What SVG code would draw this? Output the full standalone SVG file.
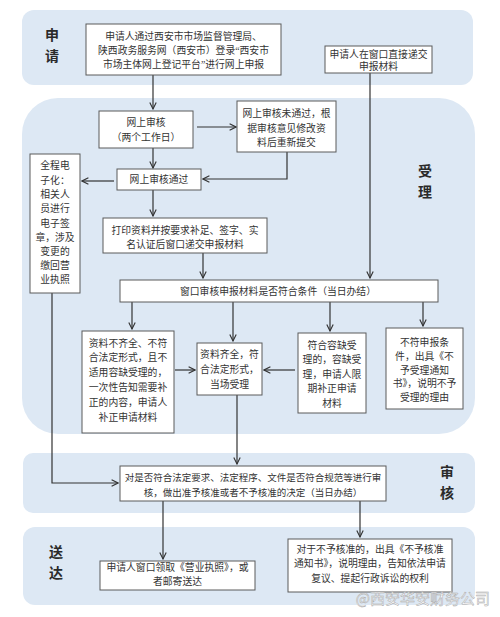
<svg xmlns="http://www.w3.org/2000/svg" width="500" height="617" viewBox="0 0 500 617">
<style>
.band{fill:#dde8f4}
.box{fill:#fff;stroke:#5a5a5a;stroke-width:1}
.t{font-family:"Liberation Serif","Noto Sans CJK SC",serif;font-size:9.8px;fill:#333;text-anchor:middle}
.lbl{font-family:"Noto Sans CJK SC",sans-serif;font-size:14px;font-weight:bold;fill:#2a2a2a;text-anchor:middle}
.c{fill:none;stroke:#333;stroke-width:1.2}
.wm{font-family:"Noto Sans CJK SC",sans-serif;font-size:15px;fill:#fff;stroke:#a8a8a8;stroke-width:0.5;text-anchor:end}
</style>
<defs>
<marker id="arr" viewBox="0 0 10 10" refX="9" refY="5" markerWidth="8" markerHeight="8" orient="auto" markerUnits="userSpaceOnUse">
<path d="M1,1 L9,5 L1,9" fill="none" stroke="#333" stroke-width="1.4"/>
</marker>
</defs>
<rect width="500" height="617" fill="#fff"/>
<g id="bands">
<rect class="band" x="22" y="10" width="451" height="75" rx="12"/>
<rect class="band" x="22" y="98" width="453" height="336" rx="36"/>
<rect class="band" x="23" y="453" width="452" height="60" rx="10"/>
<rect class="band" x="23" y="527" width="452" height="78" rx="12"/>
</g>
<g id="labels">
<text class="lbl" x="52" y="40">申<tspan x="52" dy="21">请</tspan></text>
<text class="lbl" x="425" y="176">受<tspan x="425" dy="21">理</tspan></text>
<text class="lbl" x="447" y="477">审<tspan x="447" dy="21">核</tspan></text>
<text class="lbl" x="56" y="557">送<tspan x="56" dy="21">达</tspan></text>
</g>
<g id="connectors">
<path class="c" d="M153,75 V109" marker-end="url(#arr)"/>
<path class="c" d="M370,73 V278" marker-end="url(#arr)"/>
<path class="c" d="M197,127 H236" marker-end="url(#arr)"/>
<path class="c" d="M287,152 V179 H203" marker-end="url(#arr)"/>
<path class="c" d="M153,148 V168" marker-end="url(#arr)"/>
<path class="c" d="M114,181 H82" marker-end="url(#arr)"/>
<path class="c" d="M153,190 V216" marker-end="url(#arr)"/>
<path class="c" d="M203,253 V278" marker-end="url(#arr)"/>
<path class="c" d="M132,302 V329" marker-end="url(#arr)"/>
<path class="c" d="M233,302 V341" marker-end="url(#arr)"/>
<path class="c" d="M330,302 V331" marker-end="url(#arr)"/>
<path class="c" d="M423,302 V326" marker-end="url(#arr)"/>
<path class="c" d="M175,370 H195" marker-end="url(#arr)"/>
<path class="c" d="M295,370 H264" marker-end="url(#arr)"/>
<path class="c" d="M52,293 V483 H118" marker-end="url(#arr)"/>
<path class="c" d="M237,395 V464" marker-end="url(#arr)"/>
<path class="c" d="M163,501 V559" marker-end="url(#arr)"/>
<path class="c" d="M360,501 V537" marker-end="url(#arr)"/>
</g>
<g id="n1">
<rect class="box" x="86" y="24" width="195" height="51"/>
<text class="t" x="183.5" y="40">申请人通过西安市市场监督管理局、</text>
<text class="t" x="183.5" y="54">陕西政务服务网（西安市）登录“西安市</text>
<text class="t" x="183.5" y="68">市场主体网上登记平台”进行网上申报</text>
</g>
<g id="n2">
<rect class="box" x="325" y="46" width="107" height="27"/>
<text class="t" x="378.5" y="58">申请人在窗口直接递交</text>
<text class="t" x="378.5" y="70">申报材料</text>
</g>
<g id="n3">
<rect class="box" x="99" y="111" width="94" height="37"/>
<text class="t" x="146" y="126">网上审核</text>
<text class="t" x="146" y="141">（两个工作日）</text>
</g>
<g id="n4">
<rect class="box" x="237" y="101" width="99" height="51"/>
<text class="t" x="286.5" y="117">网上审核未通过，根</text>
<text class="t" x="286.5" y="132">据审核意见修改资</text>
<text class="t" x="286.5" y="146">料后重新提交</text>
</g>
<g id="n5">
<rect class="box" x="117" y="169" width="84" height="21"/>
<text class="t" x="159" y="183">网上审核通过</text>
</g>
<g id="n6">
<rect class="box" x="30" y="154" width="50" height="139"/>
<text class="t" x="55" y="169">全程电</text>
<text class="t" x="55" y="184">子化：</text>
<text class="t" x="55" y="198">相关人</text>
<text class="t" x="55" y="212">员进行</text>
<text class="t" x="55" y="227">电子签</text>
<text class="t" x="55" y="241">章，涉及</text>
<text class="t" x="55" y="255">变更的</text>
<text class="t" x="55" y="269">缴回营</text>
<text class="t" x="55" y="283">业执照</text>
</g>
<g id="n7">
<rect class="box" x="103" y="218" width="164" height="35"/>
<text class="t" x="185" y="234">打印资料并按要求补足、签字、实</text>
<text class="t" x="185" y="248">名认证后窗口递交申报材料</text>
</g>
<g id="n8">
<rect class="box" x="120" y="280" width="318" height="22"/>
<text class="t" x="278" y="294.5">窗口审核申报材料是否符合条件（当日办结）</text>
</g>
<g id="n9">
<rect class="box" x="82" y="331" width="92" height="102"/>
<text class="t" x="128" y="347">资料不齐全、不符</text>
<text class="t" x="128" y="361">合法定形式，且不</text>
<text class="t" x="128" y="376">适用容缺受理的，</text>
<text class="t" x="128" y="391">一次性告知需要补</text>
<text class="t" x="128" y="406">正的内容，申请人</text>
<text class="t" x="128" y="421">补正申请材料</text>
</g>
<g id="n10">
<rect class="box" x="197" y="343" width="65" height="52"/>
<text class="t" x="229.5" y="358">资料齐全，符</text>
<text class="t" x="229.5" y="373">合法定形式，</text>
<text class="t" x="229.5" y="388">当场受理</text>
</g>
<g id="n11">
<rect class="box" x="298" y="333" width="68" height="80"/>
<text class="t" x="332" y="349">符合容缺受</text>
<text class="t" x="332" y="363">理的，容缺受</text>
<text class="t" x="332" y="378">理，申请人限</text>
<text class="t" x="332" y="392">期补正申请</text>
<text class="t" x="332" y="407">材料</text>
</g>
<g id="n12">
<rect class="box" x="386" y="328" width="77" height="81"/>
<text class="t" x="424.5" y="346">不符申报条</text>
<text class="t" x="424.5" y="360">件，出具《不</text>
<text class="t" x="424.5" y="374">予受理通知</text>
<text class="t" x="424.5" y="387">书》，说明不予</text>
<text class="t" x="424.5" y="401">受理的理由</text>
</g>
<g id="n13">
<rect class="box" x="120" y="466" width="266" height="35"/>
<text class="t" x="253" y="481" style="font-size:9.5px">对是否符合法定要求、法定程序、文件是否符合规范等进行审</text>
<text class="t" x="253" y="496" style="font-size:9.5px">核，做出准予核准或者不予核准的决定（当日办结）</text>
</g>
<g id="n14">
<rect class="box" x="100" y="561" width="155" height="29"/>
<text class="t" x="177.5" y="571">申请人窗口领取《营业执照》，或</text>
<text class="t" x="177.5" y="585">者邮寄送达</text>
</g>
<g id="n15">
<rect class="box" x="288" y="539" width="164" height="53"/>
<text class="t" x="370" y="553">对于不予核准的，出具《不予核准</text>
<text class="t" x="370" y="567">通知书》，说明理由，告知依法申请</text>
<text class="t" x="370" y="582">复议、提起行政诉讼的权利</text>
</g>
<text class="wm" x="490" y="604">@西安华安财务公司</text>
</svg>
